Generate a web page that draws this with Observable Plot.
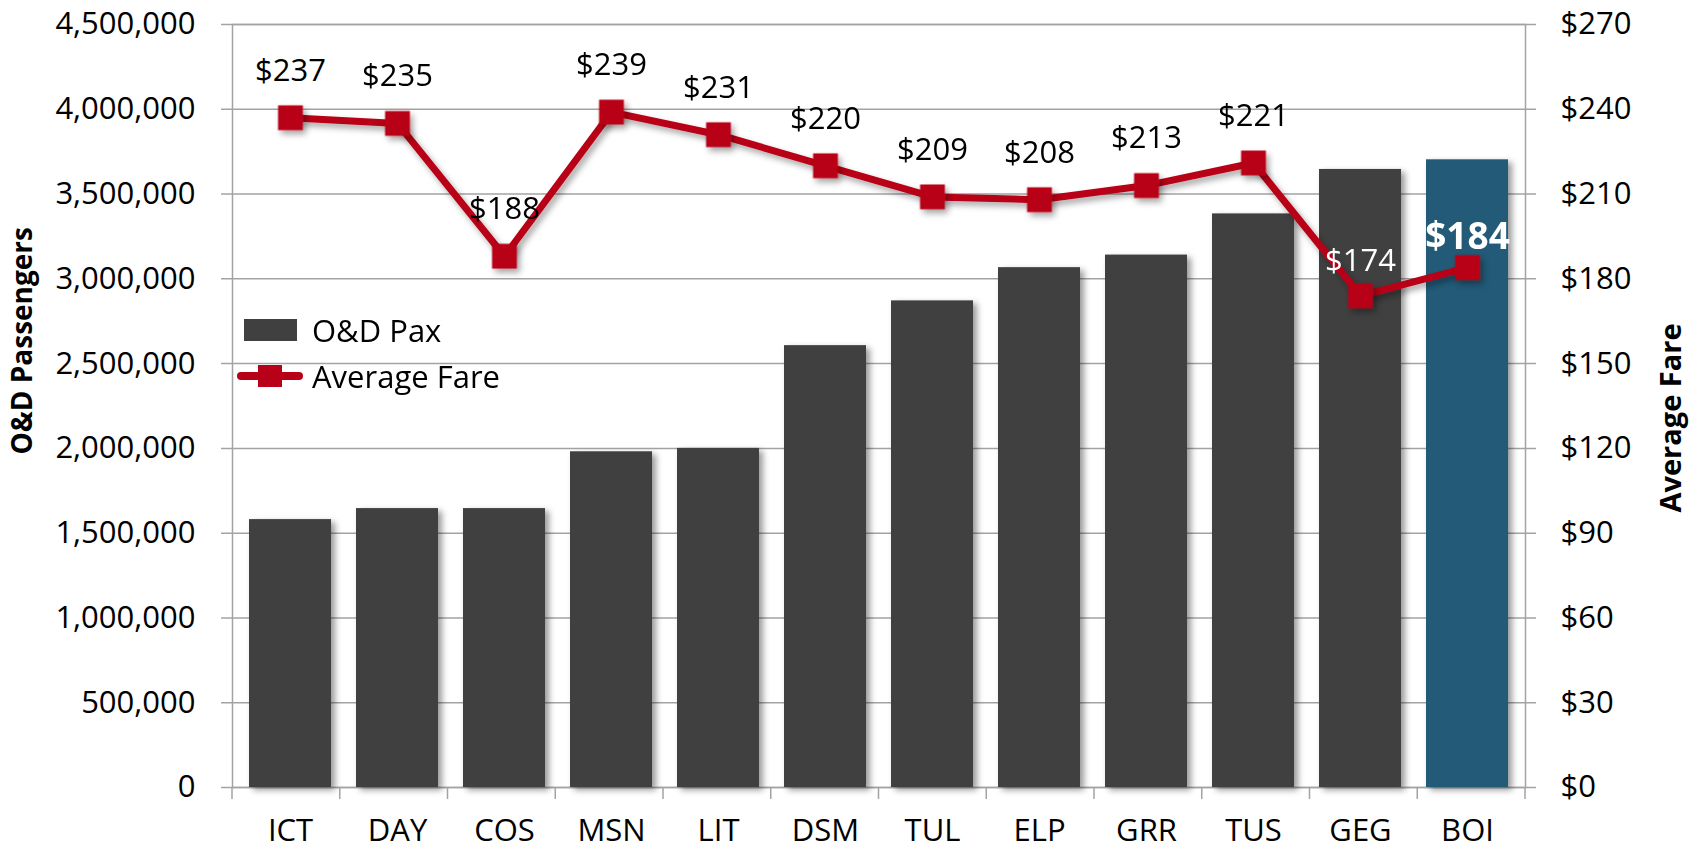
<!DOCTYPE html>
<html><head><meta charset="utf-8">
<script src="https://cdn.jsdelivr.net/npm/d3@7"></script>
<script src="https://cdn.jsdelivr.net/npm/@observablehq/plot@0.6"></script>
<style>
html,body{margin:0;padding:0;background:#fff;}
#chart{position:relative;width:1691px;height:851px;}
</style></head><body><div id="chart"></div>
<script>
const airports = ["ICT","DAY","COS","MSN","LIT","DSM","TUL","ELP","GRR","TUS","GEG","BOI"];
const odPax = [1580000,1645000,1645000,1980000,2000000,2606000,2870000,3066000,3140000,3383000,3645000,3702000];
const avgFare = [237,235,188,239,231,220,209,208,213,221,174,184];
const paxTicks = [0,500000,1000000,1500000,2000000,2500000,3000000,3500000,4000000,4500000];
const fareTicks = [0,30,60,90,120,150,180,210,240,270];
const highlight = "BOI";
const insideLabels = ["GEG","BOI"];
const seriesNames = ["O&D Pax","Average Fare"];
const axisTitles = ["O&D Passengers","Average Fare"];

const W = 1691, H = 851, mL = 232, mR = 166, mT = 24, mB = 64;
const FS = 31;
const barColor = "#404040", hiColor = "#245a78", lineColor = "#b80018", gridColor = "#a3a3a3";
const k = paxTicks[paxTicks.length-1] / fareTicks[fareTicks.length-1];
const data = airports.map((a,i)=>({airport:a, pax:odPax[i], fare:avgFare[i]}));
const fy = d => d.fare * k;
const fmtFare = d => "$" + d.fare;

const plot = Plot.plot({
  width: W, height: H, marginLeft: mL, marginRight: mR, marginTop: mT, marginBottom: mB,
  style: {fontFamily: "'Open Sans', sans-serif", fontSize: FS + "px", color: "#000", background: "#fff", overflow: "visible"},
  x: {domain: airports, paddingInner: 0.23, paddingOuter: 0.115, label: null},
  y: {domain: [0, paxTicks[paxTicks.length-1]], label: null},
  marks: [
    Plot.ruleY(paxTicks, {stroke: gridColor, strokeWidth: 1.5, insetLeft: -11, insetRight: -11}),
    Plot.frame({stroke: gridColor, strokeWidth: 1.5}),
    Plot.barY(data.filter(d => d.airport !== highlight), {x: "airport", y: "pax", fill: barColor}),
    Plot.barY(data.filter(d => d.airport === highlight), {x: "airport", y: "pax", fill: hiColor}),
    Plot.line(data, {x: "airport", y: fy, stroke: lineColor, strokeWidth: 7, strokeLinejoin: "round"}),
    Plot.dot(data, {x: "airport", y: fy, symbol: "square", r: 14, fill: lineColor, stroke: "none"}),
    Plot.text(data.filter(d => !insideLabels.includes(d.airport)), {x: "airport", y: fy, text: fmtFare, dy: -47, fontSize: FS, fill: "#000"}),
    Plot.text(data.filter(d => insideLabels.includes(d.airport) && d.airport !== highlight), {x: "airport", y: fy, text: fmtFare, dy: -35, fontSize: FS, fill: "#fff"}),
    Plot.text(data.filter(d => d.airport === highlight), {x: "airport", y: fy, text: fmtFare, dy: -30, fontSize: 37, fontWeight: "bold", fill: "#fff"}),
    Plot.axisX({tickSize: 0, tickPadding: 31, label: null}),
    Plot.axisY({anchor: "left", ticks: paxTicks, tickFormat: d3.format(","), tickSize: 0, tickPadding: 37, label: null}),
    Plot.axisY({anchor: "right", ticks: fareTicks.map(v => v * k), tickFormat: d => "$" + Math.round(d / k), tickSize: 0, tickPadding: 35, label: null})
  ]
});
document.getElementById("chart").appendChild(plot);

const svg = d3.select(plot);
svg.insert("defs", ":first-child").html(
  '<filter id="shBar" x="-20%" y="-10%" width="150%" height="130%"><feDropShadow dx="4" dy="3" stdDeviation="3" flood-color="#000" flood-opacity="0.4"/></filter>' +
  '<filter id="shLine" x="-10%" y="-10%" width="130%" height="140%"><feDropShadow dx="3" dy="4" stdDeviation="3" flood-color="#000" flood-opacity="0.35"/></filter>' +
  '<filter id="shText" x="-10%" y="-10%" width="130%" height="140%"><feDropShadow dx="1" dy="1" stdDeviation="1.2" flood-color="#000" flood-opacity="0.6"/></filter>'
);
svg.selectAll('g[aria-label="bar"]').attr("filter", "url(#shBar)");
svg.selectAll('g[aria-label="line"], g[aria-label="dot"]').attr("filter", "url(#shLine)");
svg.selectAll('g[aria-label="text"]').filter(function(){ const t = this.querySelector("text"); return t && t.getAttribute("fill") === "#fff"; }).attr("filter", "url(#shText)");

// category boundary ticks on the x axis
const xs = plot.scale("x");
const band = d3.scaleBand(airports, xs.range).paddingInner(0.23).paddingOuter(0.115);
const half = band.step() * 0.23 / 2;
const bounds = airports.map(a => band(a) - half).concat([band(airports[airports.length-1]) + band.bandwidth() + half]);
const y0 = H - mB;
svg.append("g").selectAll("line").data(bounds).join("line")
  .attr("x1", d => d).attr("x2", d => d).attr("y1", y0).attr("y2", y0 + 12)
  .attr("stroke", gridColor).attr("stroke-width", 1.5);

// axis titles
svg.append("text").attr("transform", `translate(21, 227) rotate(-90)`)
  .attr("text-anchor", "end").attr("dominant-baseline", "central")
  .style("font-weight", "bold").style("font-size", "28px").text(axisTitles[0]);
svg.append("text").attr("transform", `translate(1669, 418) rotate(-90)`)
  .attr("text-anchor", "middle").attr("dominant-baseline", "central")
  .style("font-weight", "bold").style("font-size", "29px").text(axisTitles[1]);

// legend
const lg = svg.append("g").attr("text-anchor", "start");
lg.append("rect").attr("x", 244).attr("y", 319).attr("width", 53).attr("height", 22).attr("fill", barColor);
lg.append("text").attr("x", 312).attr("y", 330).attr("dominant-baseline", "central").style("font-size", FS + "px").text(seriesNames[0]);
lg.append("line").attr("x1", 241).attr("x2", 299).attr("y1", 376).attr("y2", 376).attr("stroke", lineColor).attr("stroke-width", 8).attr("stroke-linecap", "round");
lg.append("rect").attr("x", 258).attr("y", 365).attr("width", 24).attr("height", 22).attr("fill", lineColor);
lg.append("text").attr("x", 312).attr("y", 376).attr("dominant-baseline", "central").style("font-size", FS + "px").text(seriesNames[1]);
</script></body></html>
